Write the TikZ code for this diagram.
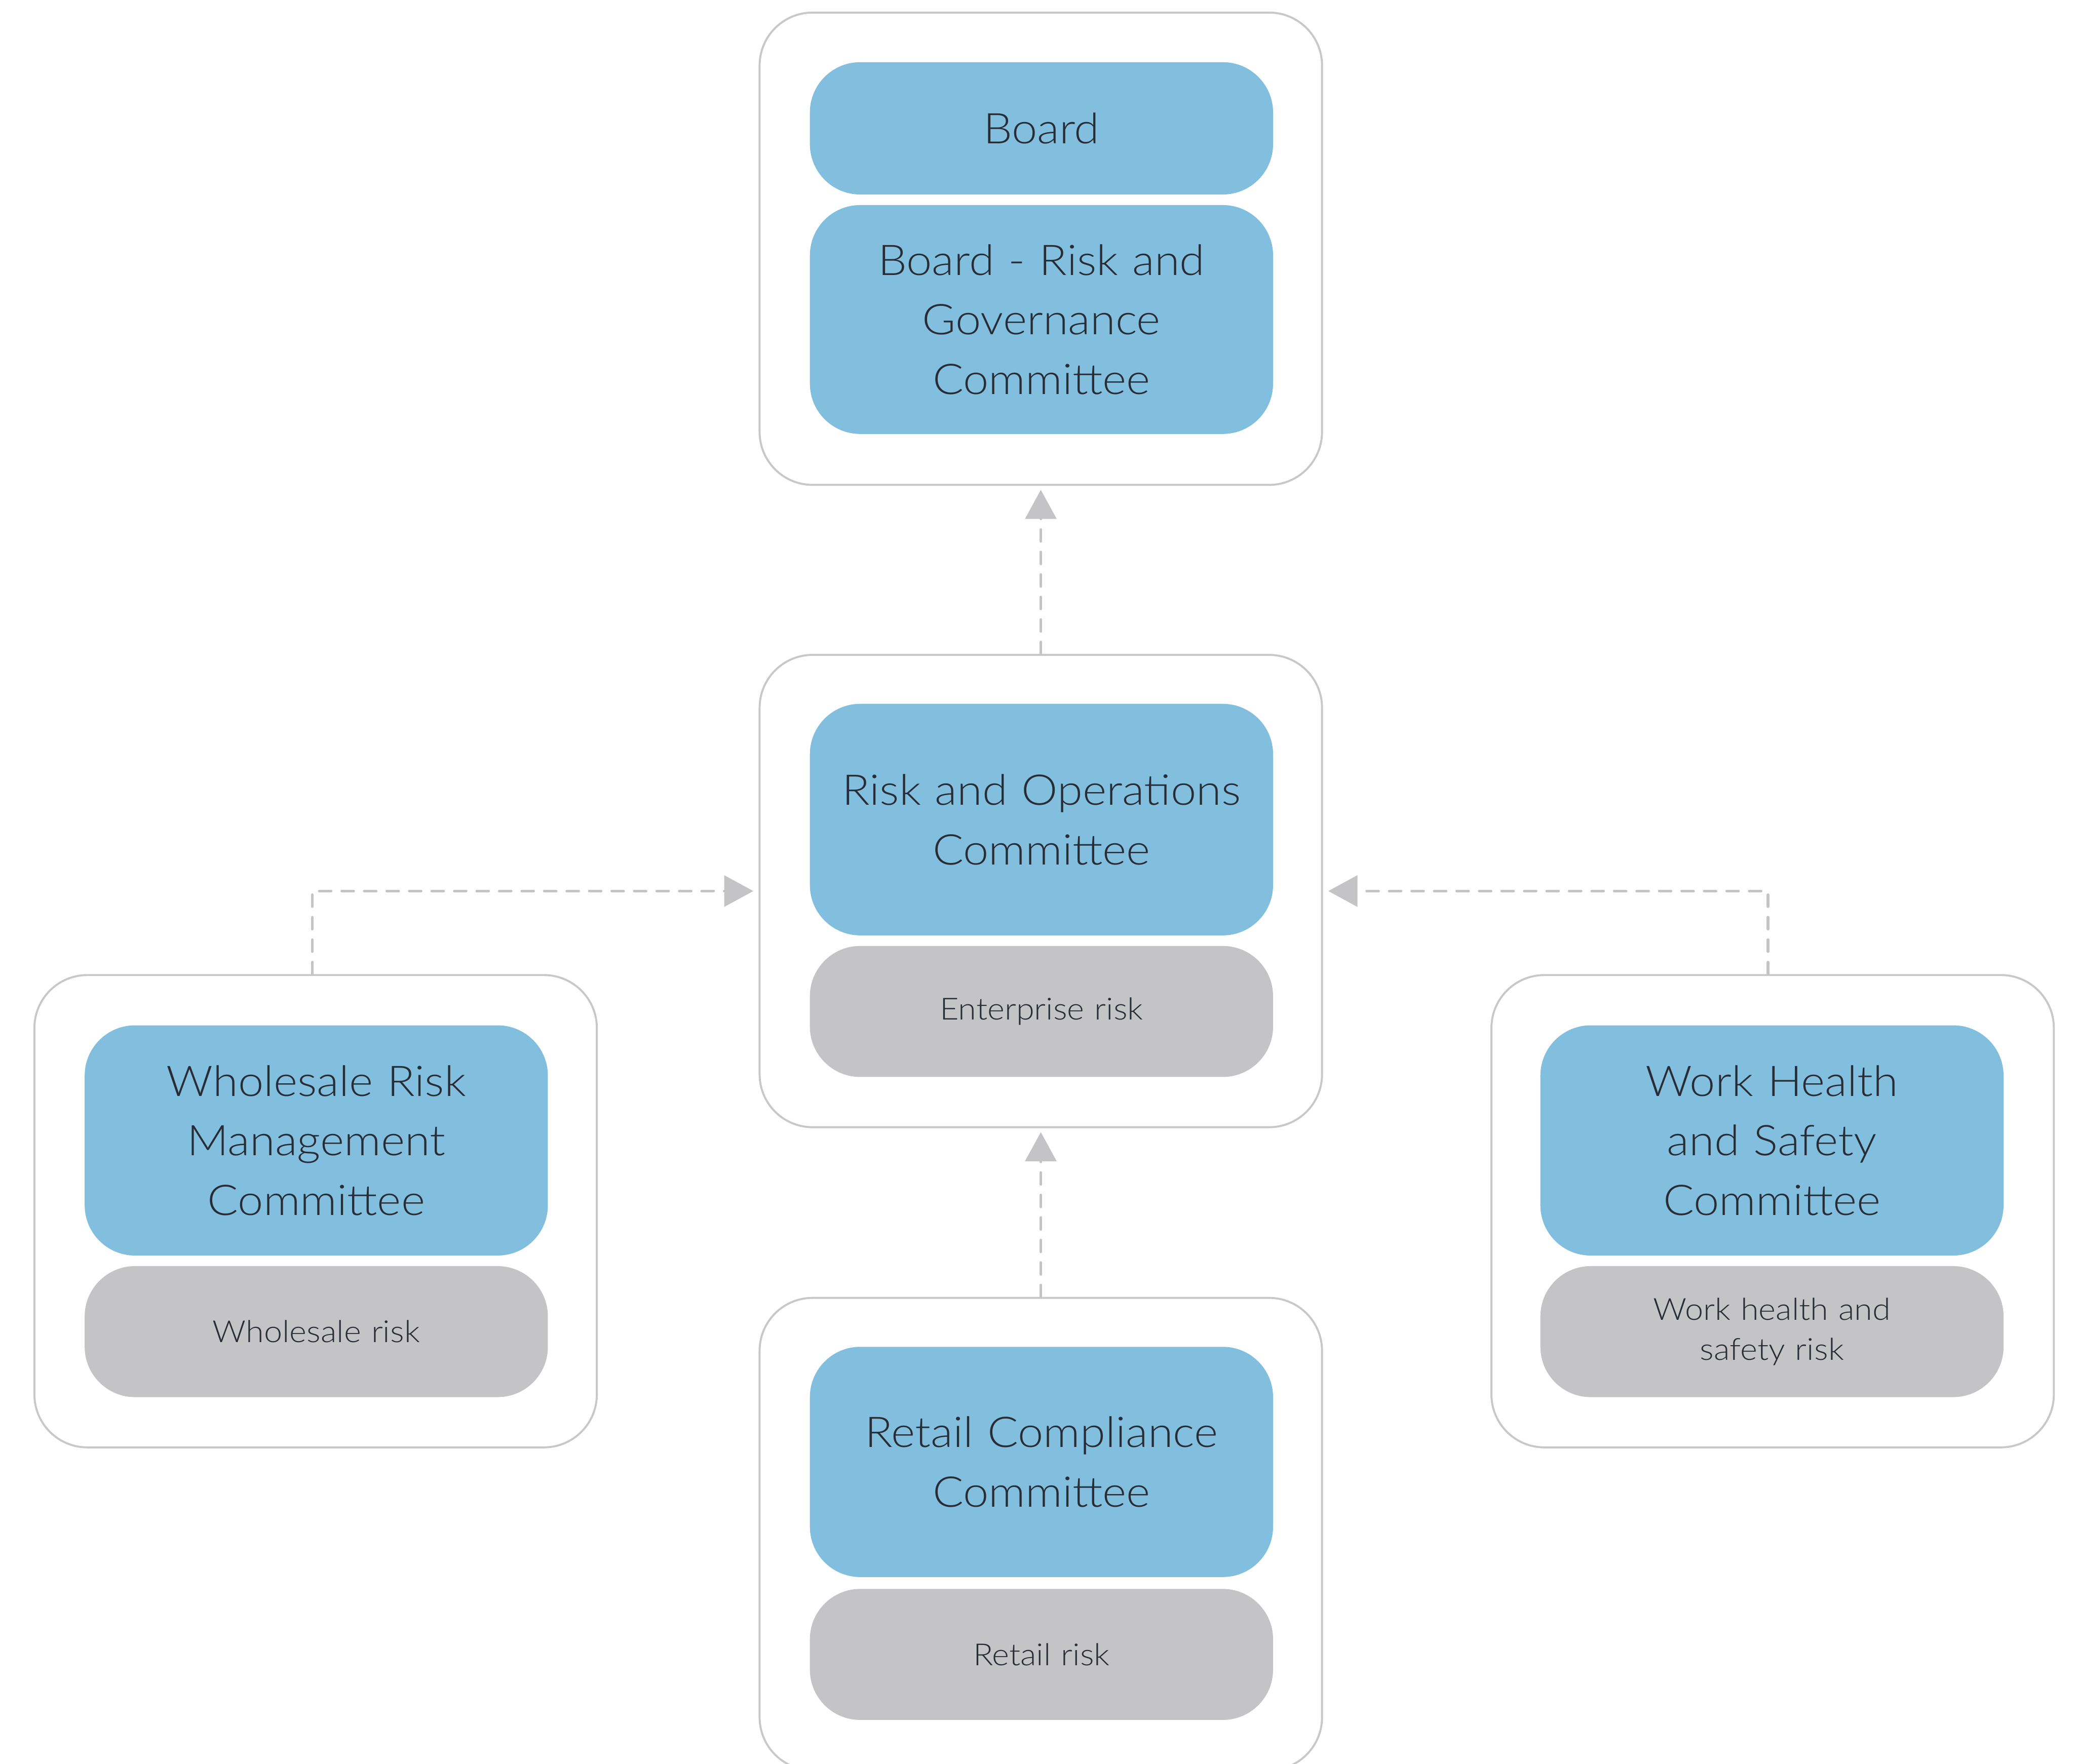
\documentclass[tikz,border=0pt]{standalone}
\usepackage{fontspec}
\setmainfont{Lato Light}[FakeStretch=1.08]
\usetikzlibrary{arrows.meta}
\definecolor{boxblue}{RGB}{130,191,223}
\definecolor{boxgrey}{RGB}{196,196,198}
\definecolor{framegrey}{RGB}{200,200,202}
\definecolor{linegrey}{RGB}{196,196,198}
\definecolor{txt}{RGB}{40,44,52}
\tikzset{
  frame/.style={draw=framegrey, line width=1.5pt, fill=white, rounded corners=40pt,
    minimum width=425pt, minimum height=357pt, inner sep=0pt},
  bluebox/.style={fill=boxblue, rounded corners=38pt, minimum width=350pt, inner sep=0pt,
    text=txt, align=center, text width=345pt, font=\fontsize{32}{45}\selectfont},
  greybox/.style={fill=boxgrey, rounded corners=38pt, minimum width=350pt, minimum height=99pt,
    inner sep=0pt, text=txt, align=center, text width=345pt, font=\fontsize{23}{30}\selectfont},
  link/.style={draw=linegrey, line width=2pt, dash pattern=on 9pt off 8pt, line cap=round,
    -{Triangle[length=22pt,width=24pt,fill=linegrey,line width=0pt]}}
}
\begin{document}
\begin{tikzpicture}[x=1pt,y=-1pt]
\useasboundingbox (0,0) rectangle (1568,1333);
\clip (0,0) rectangle (1568,1333);
% containers
\node[frame] (topc) at (786.5,188) {};
\node[frame] (midc) at (786.5,673.5) {};
\node[frame] (leftc) at (238.5,915.5) {};
\node[frame] (rightc) at (1339.5,915.5) {};
\node[frame] (botc) at (786.5,1159.5) {};
% top
\node[bluebox, minimum height=100pt] (board) at (787,97) {Board};
\node[bluebox, minimum height=173pt] (brgc) at (787,241.5) {Board - Risk and\\Governance\\Committee};
% middle
\node[bluebox, minimum height=175pt] (roc) at (787,619.5) {Risk and Operations\\Committee};
\node[greybox] (ent) at (787,764.5) {Enterprise risk};
% left
\node[bluebox, minimum height=174pt] (wrmc) at (239,862) {Wholesale Risk\\Management\\Committee};
\node[greybox] (whr) at (239,1006.5) {Wholesale risk};
% right
\node[bluebox, minimum height=174pt] (whsc) at (1339,862) {Work Health\\and Safety\\Committee};
\node[greybox] (whsr) at (1339,1006.5) {Work health and\\safety risk};
% bottom
\node[bluebox, minimum height=174pt] (rcc) at (787,1105) {Retail Compliance\\Committee};
\node[greybox] (ret) at (787,1250.5) {Retail risk};
% connectors
\draw[link, shorten >=3pt] (midc.north) -- (topc.south);
\draw[link, shorten >=3pt] (botc.north) -- (midc.south);
\draw[link, shorten >=4pt] ([xshift=-2.5pt]leftc.north) |- (midc.west);
\draw[link, shorten >=4pt] ([xshift=-3.5pt]rightc.north) |- (midc.east);
\end{tikzpicture}
\end{document}
